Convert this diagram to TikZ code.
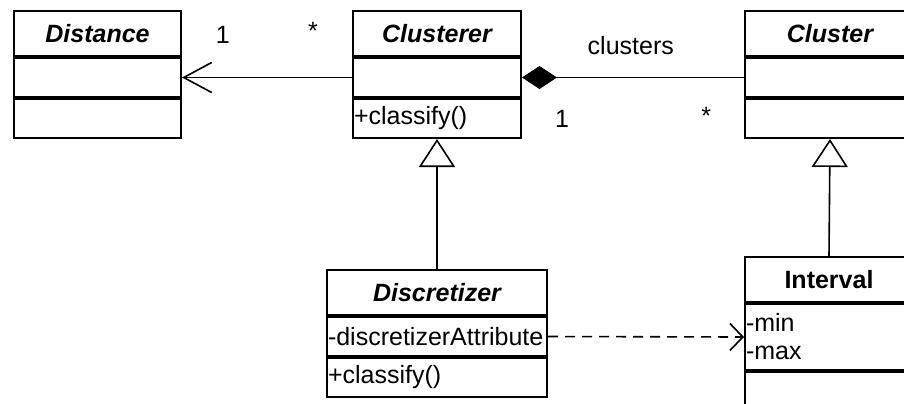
\documentclass[tikz,border=0pt]{standalone}
\usepackage{fontspec}
\setmainfont{Liberation Sans}
\usetikzlibrary{arrows.meta}

\newcommand{\umlsize}{\fontsize{12.5}{14}\selectfont}

\tikzset{
    classname/.style={draw, line width=1pt, anchor=north west, inner sep=0pt,
        minimum height=22.5pt, font=\umlsize\bfseries\itshape},
    classpart/.style={draw, line width=1pt, anchor=north west, inner xsep=0.5pt,
        inner ysep=0pt, minimum height=19.5pt, align=left, font=\umlsize},
    mult/.style={font=\umlsize, inner sep=0pt},
    assoc/.style={line width=0.8pt},
}

\begin{document}
\begin{tikzpicture}[x=0.5pt, y=-0.5pt]
    \useasboundingbox (0, 0) rectangle (904, 403);
    % Distance
    \node[classname, minimum width=83.5pt] (dist) at (13, 10) {Distance};
    \node[classpart, text width=82.5pt] (dist-a) at (dist.south west) {};
    \node[classpart, text width=82.5pt] (dist-o) at (dist-a.south west) {};
    % Clusterer
    \node[classname, minimum width=84pt] (clst) at (352, 10) {Clusterer};
    \node[classpart, text width=83pt] (clst-a) at (clst.south west) {};
    \node[classpart, text width=83pt] (clst-o) at (clst-a.south west) {+classify()};
    % Cluster
    \node[classname, minimum width=85pt] (clu) at (744, 10) {Cluster};
    \node[classpart, text width=84pt] (clu-a) at (clu.south west) {};
    \node[classpart, text width=84pt] (clu-o) at (clu-a.south west) {};
    % Discretizer
    \node[classname, minimum width=110pt] (disc) at (326, 269) {Discretizer};
    \node[classpart, text width=109pt] (disc-a) at (disc.south west) {-discretizerAttribute};
    \node[classpart, text width=109pt] (disc-o) at (disc-a.south west) {+classify()};
    % Interval
    \node[classname, minimum width=84pt, font=\umlsize\bfseries] (ivl) at (744, 256) {Interval};
    \node[classpart, text width=83pt, minimum height=33pt] (ivl-a) at (ivl.south west) {-min\\-max};
    \node[classpart, text width=83pt] (ivl-o) at (ivl-a.south west) {};

    \draw[assoc, -{Straight Barb[length=14pt, width=15pt]}] (clst-a.west) -- (dist-a.east)
        node[mult, pos=0.76, yshift=21.5pt] (m-dist) {1}
        node[mult, pos=0.23, yshift=23.5pt] (m-clst) {*};
    \draw[line width=0.6pt, {Diamond[length=17.5pt, width=11.5pt]}-] (clst-a.east) -- (clu-a.west)
        node[mult, pos=0.49, yshift=16pt] (role) {clusters}
        node[mult, pos=0.18, yshift=-20.5pt] (m-whole) {1}
        node[mult, pos=0.83, yshift=-19pt] (m-part) {*};
    \draw[assoc, -{Triangle[open, length=14pt, width=18pt]}] (disc.north) -- (clst-o.south);
    \draw[assoc, -{Triangle[open, length=14pt, width=18pt]}] (ivl.north) -- (clu-o.south);
    \draw[assoc, dash pattern=on 5pt off 3.5pt, -{Straight Barb[length=6.5pt, width=13.5pt]}]
        (disc-a.east) -- (ivl-a.west);
\end{tikzpicture}
\end{document}
